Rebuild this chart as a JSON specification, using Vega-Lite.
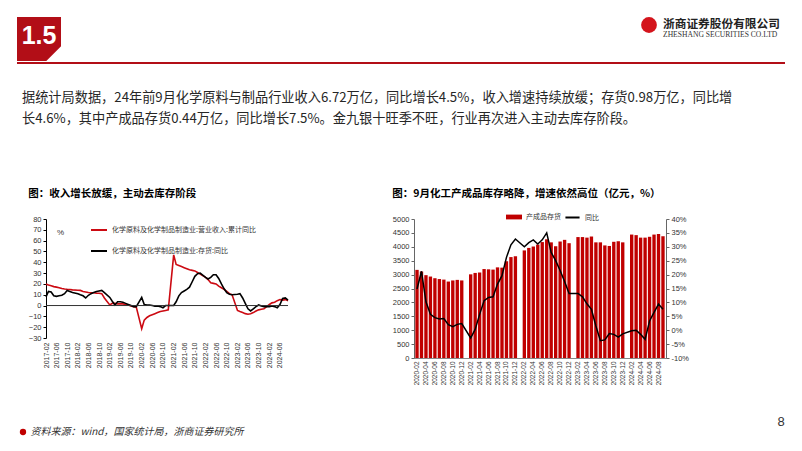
{
  "$schema": "https://vega.github.io/schema/vega-lite/v6.json",
  "background": "white",
  "padding": {"left": 17, "top": 17, "right": 5, "bottom": 5},
  "config": {
    "font": "Liberation Sans",
    "view": {"stroke": null},
    "axis": {"labelFont": "Liberation Sans", "labelColor": "#333333", "domainColor": "#333333", "tickColor": "#333333", "grid": false, "titleFont": "Liberation Sans", "labelOverlap": false},
    "legend": {"labelFont": "Noto Sans CJK SC", "labelColor": "#333333"},
    "title": {"font": "Noto Sans CJK SC"}
  },
  "resolve": {"scale": {"color": "independent", "fill": "independent", "stroke": "independent"}, "legend": {"color": "independent", "fill": "independent", "stroke": "independent"}},
  "datasets": {
    "left": [
      {"d": "2017-02", "rev": 19.8, "inv": 8}, {"d": "2017-03", "rev": 19, "inv": 13}, {"d": "2017-04", "rev": 18.3, "inv": 12.5}, {"d": "2017-05", "rev": 17.5, "inv": 9}, {"d": "2017-06", "rev": 17, "inv": 8.5}, {"d": "2017-07", "rev": 16.5, "inv": 9}, {"d": "2017-08", "rev": 15.8, "inv": 9.5}, {"d": "2017-09", "rev": 15.3, "inv": 11}, {"d": "2017-10", "rev": 15, "inv": 14}, {"d": "2017-11", "rev": 14.8, "inv": 13}, {"d": "2017-12", "rev": 14.5, "inv": 12},
      {"d": "2018-02", "rev": 14.2, "inv": 11}, {"d": "2018-03", "rev": 14, "inv": 10}, {"d": "2018-04", "rev": 13, "inv": 9}, {"d": "2018-05", "rev": 12.5, "inv": 7}, {"d": "2018-06", "rev": 12, "inv": 9.5}, {"d": "2018-07", "rev": 11.8, "inv": 11}, {"d": "2018-08", "rev": 11.8, "inv": 12}, {"d": "2018-09", "rev": 11.5, "inv": 13}, {"d": "2018-10", "rev": 11.3, "inv": 13.5}, {"d": "2018-11", "rev": 11, "inv": 14}, {"d": "2018-12", "rev": 7, "inv": 12},
      {"d": "2019-02", "rev": 0.5, "inv": 7.5}, {"d": "2019-03", "rev": 2, "inv": 4}, {"d": "2019-04", "rev": 2, "inv": 0.5}, {"d": "2019-05", "rev": 1.5, "inv": 3.5}, {"d": "2019-06", "rev": 1.5, "inv": 3.5}, {"d": "2019-07", "rev": 1.5, "inv": 3}, {"d": "2019-08", "rev": 1, "inv": 2}, {"d": "2019-09", "rev": 0.5, "inv": 1}, {"d": "2019-10", "rev": -0.5, "inv": 0}, {"d": "2019-11", "rev": -1, "inv": -1}, {"d": "2019-12", "rev": -1.5, "inv": -1},
      {"d": "2020-02", "rev": -21.5, "inv": 7.5}, {"d": "2020-03", "rev": -13.5, "inv": 1}, {"d": "2020-04", "rev": -11, "inv": 0.5}, {"d": "2020-05", "rev": -9.5, "inv": 0.5}, {"d": "2020-06", "rev": -8.5, "inv": 0}, {"d": "2020-07", "rev": -7.5, "inv": -0.5}, {"d": "2020-08", "rev": -6.5, "inv": -0.5}, {"d": "2020-09", "rev": -5.5, "inv": -1}, {"d": "2020-10", "rev": -5, "inv": -2}, {"d": "2020-11", "rev": -4.5, "inv": 0}, {"d": "2020-12", "rev": -4, "inv": 0},
      {"d": "2021-02", "rev": 46.8, "inv": 0}, {"d": "2021-03", "rev": 38, "inv": 3.5}, {"d": "2021-04", "rev": 37, "inv": 9}, {"d": "2021-05", "rev": 36, "inv": 12}, {"d": "2021-06", "rev": 35, "inv": 13.5}, {"d": "2021-07", "rev": 34, "inv": 15}, {"d": "2021-08", "rev": 33, "inv": 17}, {"d": "2021-09", "rev": 32.5, "inv": 22}, {"d": "2021-10", "rev": 32, "inv": 27}, {"d": "2021-11", "rev": 30.5, "inv": 29.5}, {"d": "2021-12", "rev": 29, "inv": 30},
      {"d": "2022-02", "rev": 26, "inv": 26}, {"d": "2022-03", "rev": 24, "inv": 24.5}, {"d": "2022-04", "rev": 21, "inv": 26}, {"d": "2022-05", "rev": 20.5, "inv": 28.5}, {"d": "2022-06", "rev": 20, "inv": 28.5}, {"d": "2022-07", "rev": 18, "inv": 25}, {"d": "2022-08", "rev": 16.5, "inv": 20}, {"d": "2022-09", "rev": 15, "inv": 15.5}, {"d": "2022-10", "rev": 13, "inv": 12}, {"d": "2022-11", "rev": 11, "inv": 10.5}, {"d": "2022-12", "rev": 10, "inv": 10},
      {"d": "2023-02", "rev": -4.5, "inv": 10.5}, {"d": "2023-03", "rev": -5.5, "inv": 11}, {"d": "2023-04", "rev": -6.5, "inv": 7}, {"d": "2023-05", "rev": -7.5, "inv": 2}, {"d": "2023-06", "rev": -8, "inv": -3}, {"d": "2023-07", "rev": -7.5, "inv": -5}, {"d": "2023-08", "rev": -6.5, "inv": -3}, {"d": "2023-09", "rev": -5, "inv": -1}, {"d": "2023-10", "rev": -4, "inv": 0.5}, {"d": "2023-11", "rev": -3.5, "inv": -0.5}, {"d": "2023-12", "rev": -3, "inv": -1},
      {"d": "2024-02", "rev": 1, "inv": -1}, {"d": "2024-03", "rev": 2.5, "inv": -0.5}, {"d": "2024-04", "rev": 3, "inv": -1}, {"d": "2024-05", "rev": 4.5, "inv": -2}, {"d": "2024-06", "rev": 5.5, "inv": 1}, {"d": "2024-07", "rev": 5, "inv": 6.5}, {"d": "2024-08", "rev": 5.5, "inv": 7}, {"d": "2024-09", "rev": 4.5, "inv": 5}
    ],
    "right": [
      {"m": "2020-02", "inv": 3170, "pct": 14.8}, {"m": "2020-03", "inv": 3110, "pct": 21.2}, {"m": "2020-04", "inv": 2980, "pct": 10.2}, {"m": "2020-05", "inv": 2930, "pct": 5.7}, {"m": "2020-06", "inv": 2870, "pct": 4.5}, {"m": "2020-07", "inv": 2840, "pct": 4.0}, {"m": "2020-08", "inv": 2820, "pct": 4.2}, {"m": "2020-09", "inv": 2750, "pct": 2.0}, {"m": "2020-10", "inv": 2790, "pct": 1.3}, {"m": "2020-11", "inv": 2810, "pct": 2.1}, {"m": "2020-12", "inv": 2790, "pct": 2.4},
      {"m": "2021-02", "inv": 3010, "pct": -2.8}, {"m": "2021-03", "inv": 3060, "pct": 0.3}, {"m": "2021-04", "inv": 3080, "pct": 5.7}, {"m": "2021-05", "inv": 3200, "pct": 10.6}, {"m": "2021-06", "inv": 3190, "pct": 11.8}, {"m": "2021-07", "inv": 3180, "pct": 12.0}, {"m": "2021-08", "inv": 3260, "pct": 16.6}, {"m": "2021-09", "inv": 3250, "pct": 19.6}, {"m": "2021-10", "inv": 3480, "pct": 26.2}, {"m": "2021-11", "inv": 3630, "pct": 30.7}, {"m": "2021-12", "inv": 3660, "pct": 32.8},
      {"m": "2022-02", "inv": 3870, "pct": 30.0}, {"m": "2022-03", "inv": 3960, "pct": 31.5}, {"m": "2022-04", "inv": 4010, "pct": 32.5}, {"m": "2022-05", "inv": 4080, "pct": 31.0}, {"m": "2022-06", "inv": 4170, "pct": 32.5}, {"m": "2022-07", "inv": 4270, "pct": 35.0}, {"m": "2022-08", "inv": 4160, "pct": 28.0}, {"m": "2022-09", "inv": 4020, "pct": 25.0}, {"m": "2022-10", "inv": 4190, "pct": 21.5}, {"m": "2022-11", "inv": 4250, "pct": 17.5}, {"m": "2022-12", "inv": 4130, "pct": 13.2},
      {"m": "2023-02", "inv": 4350, "pct": 13.2}, {"m": "2023-03", "inv": 4350, "pct": 12.0}, {"m": "2023-04", "inv": 4330, "pct": 9.5}, {"m": "2023-05", "inv": 4370, "pct": 7.5}, {"m": "2023-06", "inv": 4160, "pct": 1.5}, {"m": "2023-07", "inv": 4160, "pct": -3.8}, {"m": "2023-08", "inv": 4050, "pct": -3.5}, {"m": "2023-09", "inv": 4030, "pct": -1.2}, {"m": "2023-10", "inv": 4180, "pct": -1.5}, {"m": "2023-11", "inv": 4200, "pct": -2.5}, {"m": "2023-12", "inv": 4160, "pct": -1.3},
      {"m": "2024-02", "inv": 4440, "pct": -0.2}, {"m": "2024-03", "inv": 4420, "pct": 0.0}, {"m": "2024-04", "inv": 4330, "pct": -1.5}, {"m": "2024-05", "inv": 4330, "pct": -3.3}, {"m": "2024-06", "inv": 4360, "pct": 3.3}, {"m": "2024-07", "inv": 4440, "pct": 6.4}, {"m": "2024-08", "inv": 4460, "pct": 9.4}, {"m": "2024-09", "inv": 4380, "pct": 7.5}
    ]
  },
  "spacing": 27,
  "vconcat": [
    {
      "spacing": 0,
      "vconcat": [
        {
          "spacing": 579,
          "hconcat": [
            {
              "width": 44, "height": 44,
              "view": {"fill": "#b20e17", "stroke": null},
              "data": {"values": [{"t": "1.5"}]},
              "layer": [
                {"mark": {"type": "text", "color": "white", "fontSize": 25, "fontWeight": "bold", "font": "Liberation Sans", "baseline": "middle", "align": "center", "dy": -3}, "encoding": {"text": {"field": "t"}}},
                {"mark": {"type": "point", "shape": "M2.05,0.62L2.05,2.05L0.62,2.05Z", "filled": true, "color": "white", "opacity": 1, "size": 484}, "encoding": {}}
              ]
            },
            {
              "width": 16, "height": 16,
              "data": {"values": [{"name": "浙商证券股份有限公司", "en": "ZHESHANG SECURITIES CO.LTD"}]},
              "layer": [
                {"mark": {"type": "point", "filled": true, "color": "#d4141c", "size": 250, "opacity": 1}, "encoding": {}},
                {"mark": {"type": "text", "align": "left", "baseline": "middle", "dx": 14, "dy": -1, "fontSize": 11.7, "fontWeight": "bold", "font": "Noto Sans CJK SC", "color": "#222222"}, "encoding": {"text": {"field": "name"}}},
                {"mark": {"type": "text", "align": "left", "baseline": "middle", "dx": 14, "dy": 10, "fontSize": 7.6, "font": "Liberation Serif", "color": "#333333"}, "encoding": {"text": {"field": "en"}}}
              ]
            }
          ]
        },
        {
          "width": 768, "height": 2,
          "view": {"fill": "#b20e17", "stroke": null},
          "data": {"values": []},
          "mark": {"type": "rule"},
          "encoding": {}
        }
      ]
    },
    {
      "title": {"text": ["据统计局数据，24年前9月化学原料与制品行业收入6.72万亿，同比增长4.5%，收入增速持续放缓；存货0.98万亿，同比增", "长4.6%，其中产成品存货0.44万亿，同比增长7.5%。金九银十旺季不旺，行业再次进入主动去库存阶段。"], "anchor": "start", "fontSize": 13.2, "fontWeight": "normal", "lineHeight": 21, "color": "#262626", "dx": 5, "offset": 62},
      "spacing": 10,
      "resolve": {"scale": {"color": "independent", "fill": "independent", "stroke": "independent"}, "legend": {"color": "independent", "fill": "independent", "stroke": "independent"}},
      "hconcat": [
        {
          "width": 1, "height": 1,
          "view": {"fill": "white", "stroke": null},
          "data": {"values": []},
          "mark": {"type": "rule"},
          "encoding": {}
        },
        {
          "spacing": 100,
          "resolve": {"scale": {"color": "independent", "fill": "independent", "stroke": "independent"}, "legend": {"color": "independent", "fill": "independent", "stroke": "independent"}},
          "hconcat": [
            {
              "width": 242, "height": 119,
              "title": {"text": "图：收入增长放缓，主动去库存阶段", "anchor": "start", "fontSize": 10.5, "fontWeight": "bold", "color": "#000000", "offset": 16},
              "layer": [
                {
                  "data": {"name": "left"},
                  "transform": [{"fold": ["rev", "inv"], "as": ["s", "v"]}],
                  "mark": {"type": "line", "strokeWidth": 1.6},
                  "encoding": {
                    "x": {"field": "d", "type": "temporal",
                      "scale": {"domain": [{"year": 2017, "month": 2}, {"year": 2024, "month": 9}]},
                      "axis": {"title": null, "format": "%Y-%m", "labelAngle": -90, "labelFontSize": 7, "domain": false, "ticks": false, "labelPadding": 4,
                        "values": [{"year": 2017, "month": 2}, {"year": 2017, "month": 6}, {"year": 2017, "month": 10}, {"year": 2018, "month": 2}, {"year": 2018, "month": 6}, {"year": 2018, "month": 10}, {"year": 2019, "month": 2}, {"year": 2019, "month": 6}, {"year": 2019, "month": 10}, {"year": 2020, "month": 2}, {"year": 2020, "month": 6}, {"year": 2020, "month": 10}, {"year": 2021, "month": 2}, {"year": 2021, "month": 6}, {"year": 2021, "month": 10}, {"year": 2022, "month": 2}, {"year": 2022, "month": 6}, {"year": 2022, "month": 10}, {"year": 2023, "month": 2}, {"year": 2023, "month": 6}, {"year": 2023, "month": 10}, {"year": 2024, "month": 2}, {"year": 2024, "month": 6}]}},
                    "y": {"field": "v", "type": "quantitative",
                      "scale": {"domain": [-30, 80]},
                      "axis": {"values": [-30, -20, -10, 0, 10, 20, 30, 40, 50, 60, 70, 80], "labelOverlap": false, "labelFontSize": 7.5, "tickSize": 3, "domainColor": "#000000", "tickColor": "#000000", "title": "%", "titleAngle": 0, "titleX": 14, "titleY": 17, "titleFontSize": 8, "titleFontWeight": "normal", "titleColor": "#333333", "titleAlign": "center"}},
                    "color": {"field": "s", "type": "nominal",
                      "scale": {"domain": ["rev", "inv"], "range": ["#cc0a12", "#000000"]},
                      "legend": {"orient": "none", "legendX": 44, "legendY": 2, "direction": "vertical", "title": null, "labelFontSize": 7, "symbolType": "stroke", "symbolSize": 256, "symbolStrokeWidth": 2, "rowPadding": 8,
                        "labelExpr": "datum.label == 'rev' ? '化学原料及化学制品制造业:营业收入:累计同比' : '化学原料及化学制品制造业:存货:同比'"}}
                  }
                },
                {
                  "data": {"values": [{"z": 0}]},
                  "mark": {"type": "rule", "color": "#333333", "strokeWidth": 1},
                  "encoding": {"y": {"field": "z", "type": "quantitative",
                    "axis": {"values": [-30, -20, -10, 0, 10, 20, 30, 40, 50, 60, 70, 80], "labelOverlap": false, "labelFontSize": 7.5, "tickSize": 3, "domainColor": "#000000", "tickColor": "#000000", "title": "%", "titleAngle": 0, "titleX": 14, "titleY": 17, "titleFontSize": 8, "titleFontWeight": "normal", "titleColor": "#333333", "titleAlign": "center"}}}
                }
              ]
            },
            {
              "width": 252, "height": 139,
              "title": {"text": "图：9月化工产成品库存略降，增速依然高位（亿元，%）", "anchor": "start", "fontSize": 10.5, "fontWeight": "bold", "color": "#000000", "offset": 10, "dx": 0},
              "data": {"name": "right"},
              "encoding": {
                "x": {"field": "m", "type": "ordinal",
                  "scale": {"paddingInner": 0.25, "paddingOuter": 0.3,
                    "domain": ["2020-02", "2020-03", "2020-04", "2020-05", "2020-06", "2020-07", "2020-08", "2020-09", "2020-10", "2020-11", "2020-12", "2021-01", "2021-02", "2021-03", "2021-04", "2021-05", "2021-06", "2021-07", "2021-08", "2021-09", "2021-10", "2021-11", "2021-12", "2022-01", "2022-02", "2022-03", "2022-04", "2022-05", "2022-06", "2022-07", "2022-08", "2022-09", "2022-10", "2022-11", "2022-12", "2023-01", "2023-02", "2023-03", "2023-04", "2023-05", "2023-06", "2023-07", "2023-08", "2023-09", "2023-10", "2023-11", "2023-12", "2024-01", "2024-02", "2024-03", "2024-04", "2024-05", "2024-06", "2024-07", "2024-08", "2024-09"]},
                  "axis": {"title": null, "labelAngle": -90, "labelFontSize": 6.5, "ticks": false, "domainColor": "#888888", "labelPadding": 3,
                    "values": ["2020-02", "2020-04", "2020-06", "2020-08", "2020-10", "2020-12", "2021-02", "2021-04", "2021-06", "2021-08", "2021-10", "2021-12", "2022-02", "2022-04", "2022-06", "2022-08", "2022-10", "2022-12", "2023-02", "2023-04", "2023-06", "2023-08", "2023-10", "2023-12", "2024-02", "2024-04", "2024-06", "2024-08"]}}
              },
              "layer": [
                {
                  "mark": {"type": "bar"},
                  "encoding": {
                    "y": {"field": "inv", "type": "quantitative", "scale": {"domain": [0, 5000]},
                      "axis": {"title": null, "format": "d", "values": [0, 500, 1000, 1500, 2000, 2500, 3000, 3500, 4000, 4500, 5000], "labelFontSize": 7.5, "tickSize": 3, "domainColor": "#666666", "tickColor": "#666666"}},
                    "fill": {"datum": "产成品存货", "scale": {"range": ["#c00000"]},
                      "legend": {"orient": "none", "legendX": 92, "legendY": -10, "title": null, "labelFontSize": 7, "symbolType": "M-1,-0.3H1V0.3H-1Z", "symbolSize": 256, "symbolStrokeWidth": 0}}
                  }
                },
                {
                  "mark": {"type": "line", "strokeWidth": 1.5},
                  "encoding": {
                    "y": {"field": "pct", "type": "quantitative", "scale": {"domain": [-10, 40]},
                      "axis": {"orient": "right", "title": null, "values": [-10, -5, 0, 5, 10, 15, 20, 25, 30, 35, 40], "labelExpr": "datum.value + '%'", "labelFontSize": 7.5, "tickSize": 3, "domainColor": "#666666", "tickColor": "#666666"}},
                    "stroke": {"datum": "同比", "scale": {"range": ["#000000"]},
                      "legend": {"orient": "none", "legendX": 150, "legendY": -10, "title": null, "labelFontSize": 7, "symbolType": "stroke", "symbolSize": 200, "symbolStrokeWidth": 2}}
                  }
                }
              ],
              "resolve": {"scale": {"y": "independent"}}
            }
          ]
        }
      ]
    },
    {
      "spacing": 532,
      "hconcat": [
        {
          "spacing": 1,
          "hconcat": [
            {
              "width": 12, "height": 40,
              "data": {"values": [{"k": 1}]},
              "mark": {"type": "point", "filled": true, "color": "#c00000", "size": 40, "opacity": 1},
              "encoding": {}
            },
            {
              "width": 1, "height": 40,
              "data": {"values": [{"t": "资料来源：wind，国家统计局，浙商证券研究所"}]},
              "mark": {"type": "text", "align": "left", "baseline": "middle", "fontSize": 10, "fontStyle": "italic", "font": "Noto Sans CJK SC", "color": "#333333"},
              "encoding": {"text": {"field": "t"}}
            }
          ]
        },
        {
          "width": 10, "height": 40,
          "data": {"values": [{"t": "8"}]},
          "mark": {"type": "text", "fontSize": 13, "color": "#333333", "dy": -10, "font": "Liberation Sans"},
          "encoding": {"text": {"field": "t"}}
        }
      ]
    }
  ]
}
